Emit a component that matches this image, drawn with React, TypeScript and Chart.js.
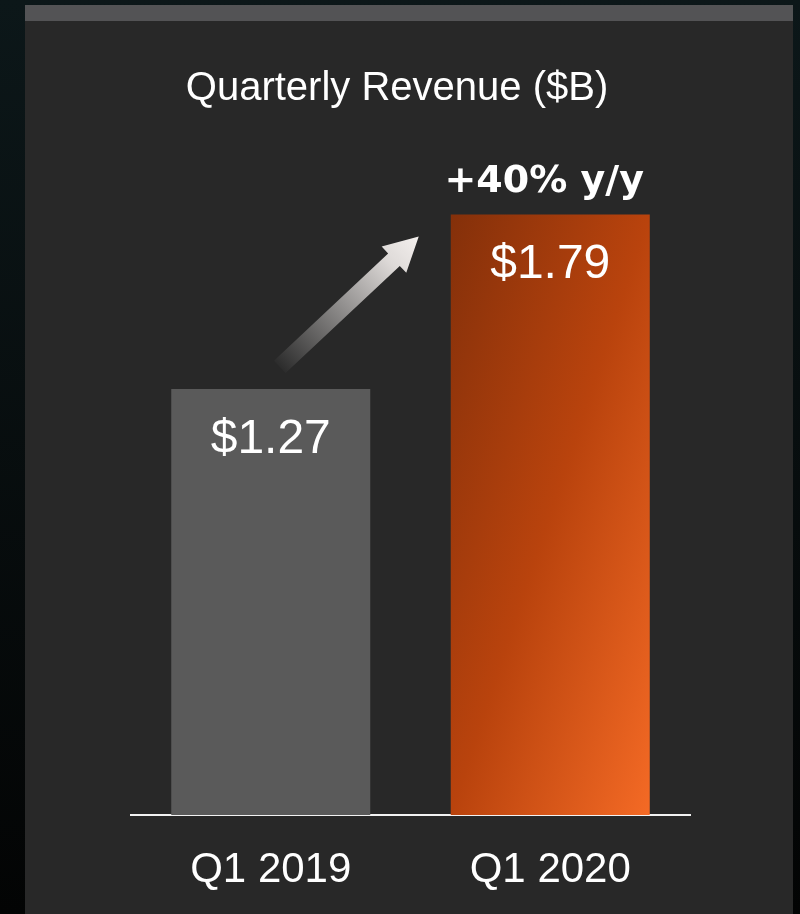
import { useEffect, useRef } from "react";
import { Chart, registerables } from "chart.js";

Chart.register(...registerables);

const categories = ["Q1 2019", "Q1 2020"];
const revenue = [1.27, 1.79];
const valueLabels = ["$1.27", "$1.79"];
const titleText = "Quarterly Revenue ($B)";
const growthLabel = "+40% y/y";

const FONT = "'Liberation Sans', Arial, sans-serif";
const BAR_PCT = 0.712;

export default function App() {
  const ref = useRef<HTMLCanvasElement>(null);

  useEffect(() => {
    document.body.style.margin = "0";
    const canvas = ref.current;
    if (!canvas) return;

    const bgPlugin = {
      id: "bgPanel",
      beforeDraw(chart: any) {
        const { ctx, width, height } = chart;
        ctx.save();
        const g = ctx.createLinearGradient(0, 0, 0, height);
        g.addColorStop(0, "#0c1719");
        g.addColorStop(1, "#030404");
        ctx.fillStyle = g;
        ctx.fillRect(0, 0, width, height);
        ctx.fillStyle = "#282828";
        ctx.fillRect(25, 5, 768, height - 5);
        ctx.fillStyle = "#535355";
        ctx.fillRect(25, 5, 768, 16);
        ctx.restore();
      },
    };

    const labelPlugin = {
      id: "annotations",
      afterDatasetsDraw(chart: any) {
        const { ctx } = chart;
        const meta = chart.getDatasetMeta(0);
        const b1 = meta.data[0];
        const b2 = meta.data[1];
        ctx.save();
        ctx.fillStyle = "#ffffff";
        ctx.textAlign = "center";
        ctx.textBaseline = "alphabetic";

        ctx.font = `40px ${FONT}`;
        ctx.fillText(titleText, 397, 100);

        ctx.font = `48px ${FONT}`;
        meta.data.forEach((bar: any, i: number) => {
          ctx.fillText(valueLabels[i], bar.x, bar.y + 64);
        });

        ctx.font = `bold 38px 'DejaVu Sans', sans-serif`;
        ctx.fillText(growthLabel, b2.x - 6, b2.y - 22);

        // arrow from first bar toward second bar
        const tx = b1.x + 9;
        const ty = b1.y - 22;
        const hx = b2.x - b2.width / 2 - 32;
        const hy = b2.y + 22;
        const L = Math.hypot(hx - tx, hy - ty);
        const ang = Math.atan2(hy - ty, hx - tx);
        ctx.translate(tx, ty);
        ctx.rotate(ang);
        const g = ctx.createLinearGradient(0, 0, L, 0);
        g.addColorStop(0, "#2c2c2c");
        g.addColorStop(0.45, "#8f8d8c");
        g.addColorStop(0.8, "#dedad8");
        g.addColorStop(1, "#f4f0ee");
        ctx.fillStyle = g;
        const sh = 8.5;
        const hh = 18;
        const hl = 34;
        ctx.beginPath();
        ctx.moveTo(0, -sh);
        ctx.lineTo(L - hl, -sh);
        ctx.lineTo(L - hl, -hh);
        ctx.lineTo(L, 0);
        ctx.lineTo(L - hl, hh);
        ctx.lineTo(L - hl, sh);
        ctx.lineTo(0, sh);
        ctx.closePath();
        ctx.fill();
        ctx.restore();
      },
    };

    const chart = new Chart(canvas, {
      type: "bar",
      data: {
        labels: categories,
        datasets: [
          {
            data: revenue,
            barPercentage: BAR_PCT,
            categoryPercentage: 1,
            borderWidth: 0,
            backgroundColor: (c: any) => {
              if (c.dataIndex === 0) return "#5a5a5a";
              const ch = c.chart;
              const { chartArea, scales } = ch;
              if (!chartArea || !scales.x || !scales.y) return "#c0450d";
              const xc = scales.x.getPixelForValue(c.dataIndex);
              const w = (chartArea.width / categories.length) * BAR_PCT;
              const top = scales.y.getPixelForValue(revenue[c.dataIndex]);
              const bottom = scales.y.getPixelForValue(0);
              const h = bottom - top;
              const cx = xc;
              const cy = (top + bottom) / 2;
              const n = Math.hypot(w, h);
              const Lh = (w * h) / n;
              const ux = h / n;
              const uy = w / n;
              const g = ch.ctx.createLinearGradient(
                cx - Lh * ux,
                cy - Lh * uy,
                cx + Lh * ux,
                cy + Lh * uy
              );
              g.addColorStop(0, "#84300a");
              g.addColorStop(0.5, "#b9430d");
              g.addColorStop(1, "#f46a25");
              return g;
            },
          },
        ],
      },
      options: {
        responsive: false,
        animation: false,
        devicePixelRatio: 1,
        layout: { padding: { left: 131, right: 110, top: 144, bottom: 0 } },
        plugins: {
          legend: { display: false },
          tooltip: { enabled: false },
          title: { display: false },
        },
        scales: {
          x: {
            grid: { display: false, drawTicks: false },
            border: { display: true, color: "#f2f2f2", width: 2 },
            ticks: {
              color: "#ffffff",
              font: { family: FONT, size: 42 },
              padding: 30,
            },
            afterFit: (s: any) => {
              s.height = 99;
            },
          },
          y: {
            display: false,
            min: 0,
            max: 2,
          },
        },
      },
      plugins: [bgPlugin, labelPlugin],
    });

    return () => {
      chart.destroy();
    };
  }, []);

  return (
    <div style={{ position: "absolute", left: 0, top: 0, width: 800, height: 914 }}>
      <canvas ref={ref} width={800} height={914} style={{ display: "block" }} />
    </div>
  );
}
